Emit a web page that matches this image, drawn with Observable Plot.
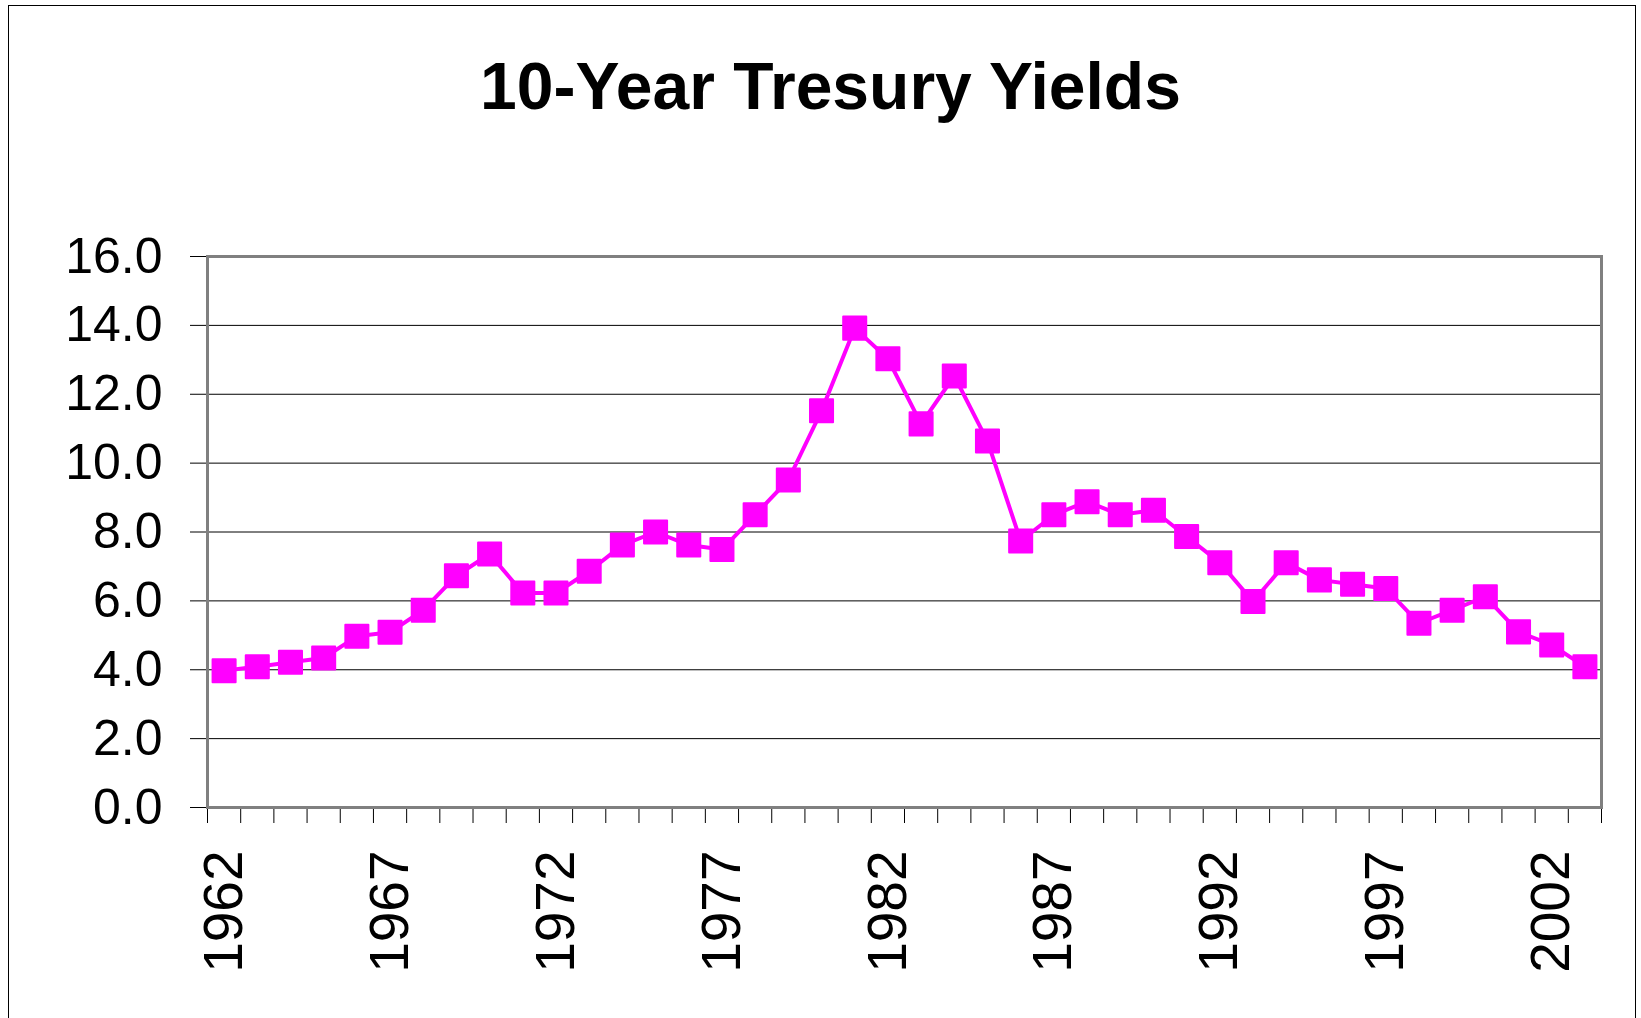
<!DOCTYPE html>
<html>
<head>
<meta charset="utf-8">
<script src="https://cdn.jsdelivr.net/npm/d3@7"></script>
<script src="https://cdn.jsdelivr.net/npm/@observablehq/plot@0.6"></script>
<style>
  body { margin: 0; background: #fff; }
  #wrap { position: relative; width: 1641px; height: 1018px; overflow: hidden; font-family: "Liberation Sans", Arial, sans-serif; }
  #frame { position: absolute; left: 8px; top: 5px; width: 1628px; height: 1100px; border: 1.5px solid #000; box-sizing: border-box; }
  #title { position: absolute; top: 53px; left: 10px; width: 1641px; line-height: 66px; font-size: 66px; font-weight: bold; text-align: center; color: #000; }
  #chart { position: absolute; top: 160px; left: 0; }
</style>
</head>
<body>
<div id="wrap">
  <div id="frame"></div>
  <div id="title">10-Year Tresury Yields</div>
  <div id="chart"></div>
</div>
<script>
const years = [1962,1963,1964,1965,1966,1967,1968,1969,1970,1971,1972,1973,1974,1975,1976,1977,1978,1979,1980,1981,1982,1983,1984,1985,1986,1987,1988,1989,1990,1991,1992,1993,1994,1995,1996,1997,1998,1999,2000,2001,2002,2003];
const yields = [3.97,4.09,4.22,4.34,4.97,5.09,5.73,6.73,7.36,6.23,6.23,6.86,7.62,8.00,7.62,7.49,8.50,9.51,11.52,13.92,13.03,11.14,12.53,10.64,7.74,8.50,8.88,8.50,8.63,7.87,7.11,5.98,7.11,6.61,6.48,6.36,5.35,5.73,6.12,5.10,4.72,4.09];
const yTicks = [0,2,4,6,8,10,12,14,16];
const yearLabels = [1962,1967,1972,1977,1982,1987,1992,1997,2002];

const data = years.map((year, i) => ({year, value: yields[i]}));
const bounds = years.map(y => y - 0.5).concat([years[years.length - 1] + 0.5]);

const chart = Plot.plot({
  width: 1641,
  height: 858,
  marginLeft: 207,
  marginRight: 40,
  marginTop: 96,
  marginBottom: 211,
  style: {fontFamily: "'Liberation Sans', Arial, sans-serif", background: "transparent", overflow: "visible", color: "#000"},
  x: {domain: [years[0] - 0.5, years[years.length - 1] + 0.5]},
  y: {domain: [yTicks[0], yTicks[yTicks.length - 1]]},
  marks: [
    Plot.ruleY(yTicks, {stroke: "#000", strokeWidth: 1}),
    Plot.axisY(yTicks, {tickFormat: d => d.toFixed(1), tickSize: 17, tickPadding: 28, fontSize: 50, label: null}),
    Plot.axisX(bounds, {tickSize: 16, tickFormat: () => "", label: null}),
    Plot.axisX(yearLabels, {tickSize: 0, tickPadding: 43, tickRotate: -90, fontSize: 55, tickFormat: d => String(d), label: null}),
    Plot.frame({stroke: "#808080", strokeWidth: 3}),
    Plot.line(data, {x: "year", y: "value", stroke: "#ff00ff", strokeWidth: 4}),
    Plot.dot(data, {x: "year", y: "value", symbol: "square", r: 13, fill: "#ff00ff", stroke: "#ff00ff", strokeWidth: 2, strokeLinejoin: "round"})
  ]
});
document.getElementById("chart").appendChild(chart);
</script>
</body>
</html>
